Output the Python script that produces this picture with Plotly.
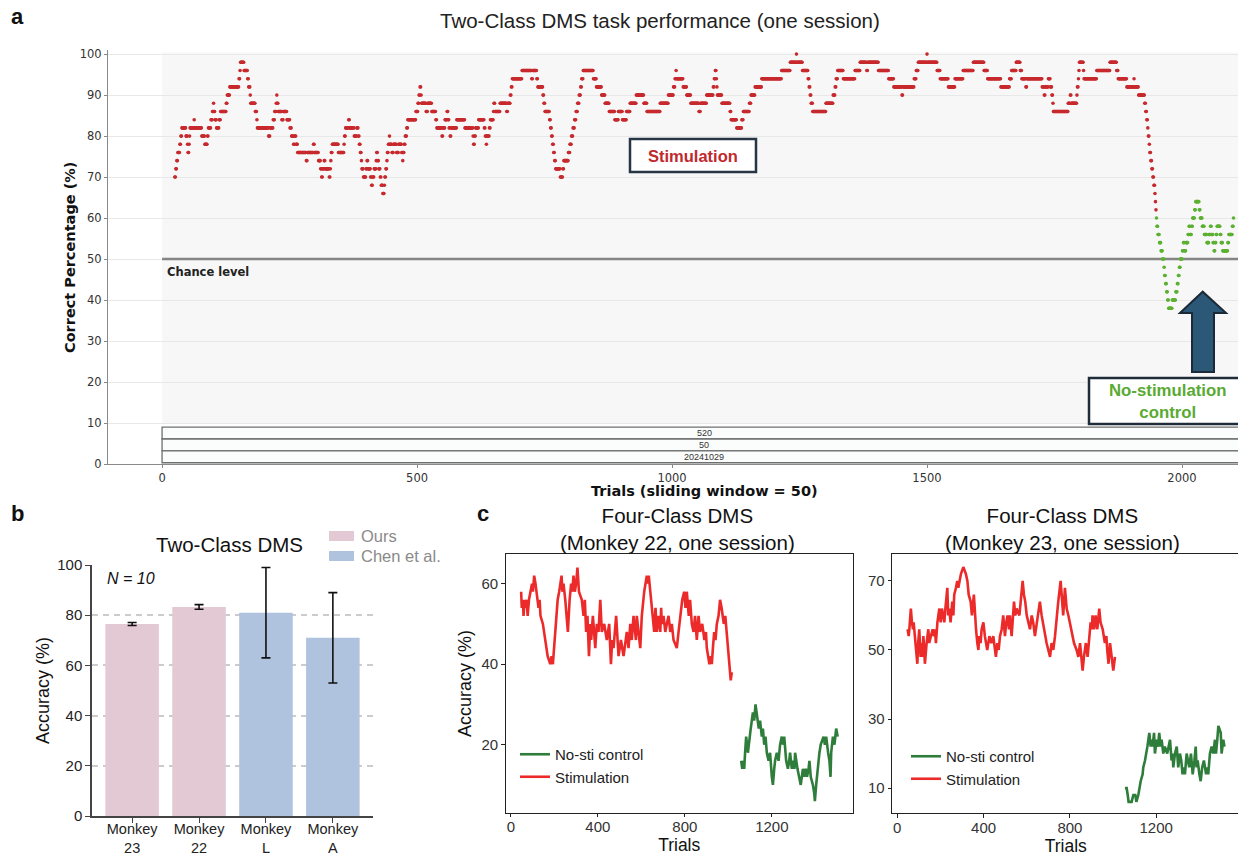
import plotly.graph_objects as go

W, H = 1246, 856          # browser window
OFF = 8                   # default page margin of the html body
FW, FH = W - OFF, H - OFF  # figure size so that it fits exactly in the window
LS = "Liberation Sans, Arial, sans-serif"
DJ = "DejaVu Sans, sans-serif"

# ---------------- Panel a: sliding-window accuracy (run-length: start trial, level) ----------------
A_STIM_START = [25, 27, 29, 31, 35, 37, 39, 47, 50, 51, 53, 54, 55, 63, 64, 78, 84, 89, 91, 96, 99, 101, 102, 104, 107, 112, 115, 126, 128, 133,
                151, 153, 154, 161, 168, 170, 173, 174, 183, 186, 187, 209, 212, 218, 221, 224, 225, 226, 228, 235, 238, 245, 251, 254, 258, 260, 263, 266,
                283, 285, 297, 299, 307, 311, 313, 315, 318, 320, 328, 330, 331, 332, 334, 346, 357, 358, 360, 366, 368, 377, 382, 385, 387, 389, 391, 392,
                395, 400, 402, 404, 409, 411, 413, 416, 420, 421, 423, 425, 428, 430, 433, 436, 437, 439, 441, 442, 444, 446, 447, 451, 454, 460, 464, 470,
                472, 473, 475, 477, 480, 482, 498, 502, 504, 506, 508, 509, 518, 521, 529, 537, 539, 549, 551, 555, 559, 561, 563, 565, 567, 578, 594, 610,
                611, 613, 615, 621, 632, 634, 636, 637, 642, 644, 650, 651, 653, 663, 676, 678, 683, 685, 687, 706, 725, 727, 735, 737, 747, 749, 751, 760,
                762, 764, 766, 768, 770, 772, 781, 786, 788, 797, 800, 803, 806, 809, 812, 815, 818, 821, 823, 826, 846, 852, 862, 869, 877, 888, 895, 903,
                911, 918, 930, 945, 951, 977, 993, 1003, 1006, 1008, 1009, 1022, 1029, 1037, 1053, 1056, 1068, 1081, 1083, 1085, 1087, 1088, 1089, 1098,
                1114, 1116, 1127, 1137, 1140, 1152, 1155, 1163, 1176, 1215, 1232, 1244, 1245, 1256, 1267, 1269, 1271, 1273, 1276, 1302, 1316, 1320, 1322,
                1325, 1336, 1359, 1369, 1382, 1384, 1405, 1425, 1435, 1451, 1453, 1475, 1479, 1483, 1500, 1501, 1520, 1526, 1542, 1555, 1571, 1591, 1612,
                1619, 1645, 1662, 1666, 1675, 1683, 1686, 1694, 1696, 1726, 1730, 1732, 1738, 1742, 1745, 1747, 1748, 1777, 1781, 1783, 1794, 1795, 1797,
                1798, 1799, 1807, 1808, 1833, 1859, 1872, 1875, 1892, 1906, 1907, 1915, 1927, 1929, 1931, 1933, 1934, 1936, 1937, 1939, 1941, 1943, 1945,
                1947, 1948, 1949]
A_STIM_LEVEL = [70, 72, 74, 76, 78, 80, 82, 80, 78, 76, 78, 80, 82, 84, 82, 80, 78, 80, 82, 84, 86, 88, 86, 84, 82, 84, 86, 88, 90, 92,
                94, 96, 98, 96, 94, 92, 90, 88, 86, 84, 82, 80, 82, 84, 86, 88, 90, 88, 86, 84, 86, 84, 82, 80, 78, 80, 78, 76,
                74, 76, 78, 76, 74, 72, 70, 72, 74, 72, 70, 72, 74, 76, 78, 76, 78, 80, 82, 84, 82, 80, 82, 80, 78, 76, 74, 72,
                70, 72, 74, 72, 70, 68, 70, 72, 74, 76, 74, 72, 70, 68, 66, 68, 70, 72, 74, 76, 78, 80, 78, 76, 78, 76, 78, 76,
                74, 76, 78, 80, 82, 84, 86, 88, 90, 92, 90, 88, 86, 88, 86, 84, 82, 80, 82, 84, 86, 84, 82, 80, 82, 84, 82, 80,
                78, 80, 82, 84, 82, 80, 78, 80, 82, 84, 86, 88, 86, 88, 86, 88, 90, 92, 94, 96, 94, 96, 94, 92, 90, 88, 86, 84,
                82, 80, 78, 76, 74, 72, 70, 72, 74, 76, 78, 80, 82, 84, 86, 88, 90, 92, 94, 96, 94, 92, 90, 88, 86, 84, 86, 84,
                86, 88, 90, 88, 86, 88, 90, 92, 94, 96, 94, 92, 90, 88, 86, 88, 90, 92, 94, 96, 94, 92, 90, 88,
                86, 84, 82, 84, 86, 88, 90, 92, 94, 96, 98, 100, 98, 96, 94, 92, 90, 88, 86, 88, 90, 92, 94,
                96, 94, 96, 98, 96, 98, 96, 94, 92, 90, 92, 94, 96, 98, 100, 98, 96, 94, 92, 94, 96, 98, 96,
                94, 92, 94, 96, 98, 96, 94, 92, 94, 92, 90, 92, 94, 92, 90, 88, 86, 88, 90, 88, 90, 92, 94,
                96, 98, 96, 94, 96, 98, 96, 94, 92, 94, 92, 90, 88, 86, 84, 82, 80, 78, 76, 74, 72, 70, 68,
                66, 64, 62]
A_STIM_END = 1950
A_CTRL_START = [1950, 1951, 1953, 1956, 1959, 1962, 1965, 1966, 1968, 1970, 1972, 1974, 1981, 1988, 1991, 1993, 1995, 1997, 2001, 2003,
                2005, 2008, 2012, 2014, 2016, 2019, 2021, 2025, 2027, 2034, 2036, 2040, 2044, 2049, 2053, 2056, 2058, 2061, 2063, 2065,
                2067, 2069, 2075, 2077, 2080, 2090, 2092, 2099, 2101]
A_CTRL_LEVEL = [60, 58, 56, 54, 52, 50, 48, 46, 44, 42, 40, 38, 40, 42, 44, 46, 48, 50, 52, 54,
                52, 54, 56, 58, 56, 58, 60, 62, 64, 62, 60, 58, 56, 54, 56, 58, 56, 54, 52, 54,
                56, 58, 56, 54, 52, 54, 56, 58, 60]
A_CTRL_END = 2102
A_XTICKS = [0, 500, 1000, 1500, 2000]
A_YTICKS = [0, 10, 20, 30, 40, 50, 60, 70, 80, 90, 100]
A_TABLE_ROWS = ["520", "50", "20241029"]
A_CHANCE = 50

# ---------------- Panel b ----------------
B_CATS = ["Monkey<br>23", "Monkey<br>22", "Monkey<br>L", "Monkey<br>A"]
B_MEAN = [76.5, 83.3, 81.0, 71.0]
B_ERR = [0.6, 0.9, 18.0, 18.0]
B_GROUP = ["Ours", "Ours", "Chen et al.", "Chen et al."]
B_YTICKS = [0, 20, 40, 60, 80, 100]

# ---------------- Panel c (Monkey 22) ----------------
C22_STIM_T = [47, 50, 55, 58, 63, 67, 72, 77, 83, 89, 97, 101, 107, 113, 118, 123, 127, 132, 136, 147, 153, 162, 169, 181, 187, 193, 199,
              204, 211, 215, 222, 227, 233, 237, 242, 250, 257, 262, 270, 277, 282, 288, 294, 300, 306, 313, 326, 334, 340, 346, 352, 359,
              365, 369, 377, 388, 395, 403, 411, 418, 429, 441, 452, 460, 466, 472, 484, 495, 506, 518, 533, 541, 549, 556, 564, 575, 579,
              595, 602, 613, 625, 630, 634, 644, 651, 659, 665, 671, 679, 687, 691, 694, 702, 710, 717, 725, 733, 740, 748, 763, 771, 779,
              788, 797, 803, 809, 818, 824, 832, 840, 847, 855, 863, 870, 880, 890, 897, 901, 913, 920, 924, 929, 935, 941, 947, 955, 962,
              969, 975, 979, 986, 993, 1001, 1008, 1011, 1016]
C22_STIM_V = [58, 54, 56, 52, 56, 54, 56, 52, 56, 58, 60, 58, 62, 60, 58, 56, 54, 56, 52, 50, 48, 44, 42, 40, 42, 40, 44,
              48, 52, 56, 58, 60, 62, 58, 60, 56, 52, 48, 56, 60, 58, 62, 58, 60, 64, 58, 56, 52, 56, 48, 52, 42,
              50, 46, 52, 44, 50, 48, 56, 48, 50, 46, 50, 40, 46, 44, 52, 42, 46, 42, 48, 44, 50, 46, 52, 46, 52,
              44, 52, 58, 62, 60, 62, 56, 52, 48, 54, 48, 52, 48, 54, 50, 52, 48, 50, 52, 48, 50, 46, 44, 48, 52,
              56, 58, 54, 58, 52, 56, 50, 48, 52, 46, 52, 48, 50, 46, 48, 44, 40, 42, 40, 44, 48, 46, 50, 52, 56,
              54, 52, 50, 52, 48, 42, 38, 36, 38]
C22_CTRL_T = [1059, 1064, 1068, 1073, 1077, 1082, 1090, 1097, 1103, 1108, 1113, 1119, 1125, 1130, 1136, 1140, 1146, 1154, 1159, 1165,
              1171, 1177, 1185, 1192, 1200, 1205, 1211, 1215, 1223, 1231, 1238, 1246, 1251, 1257, 1266, 1274, 1280, 1284, 1292, 1300,
              1304, 1307, 1318, 1327, 1333, 1343, 1349, 1356, 1362, 1369, 1373, 1379, 1389, 1395, 1398, 1404, 1410, 1419, 1425, 1438,
              1444, 1450, 1459, 1465, 1470, 1473, 1481, 1488, 1496, 1503]
C22_CTRL_V = [16, 14, 16, 14, 18, 22, 18, 22, 24, 26, 28, 26, 30, 28, 26, 24, 26, 22, 24, 20,
              22, 18, 16, 18, 12, 10, 14, 16, 18, 16, 20, 22, 20, 22, 16, 14, 16, 18, 14, 16,
              14, 18, 14, 12, 10, 14, 12, 14, 12, 14, 16, 12, 10, 8, 6, 10, 14, 18, 20, 22,
              20, 22, 18, 16, 12, 18, 22, 20, 24, 22]

# ---------------- Panel c (Monkey 23) ----------------
C23_STIM_T = [48, 53, 56, 59, 63, 68, 73, 76, 82, 87, 93, 97, 102, 108, 113, 116, 121, 125, 128, 136, 144, 148, 155, 164, 170, 175, 179,
              186, 195, 201, 207, 213, 218, 223, 232, 236, 241, 247, 255, 260, 264, 272, 278, 283, 288, 295, 306, 318, 325, 331, 340, 346,
              355, 360, 365, 371, 376, 380, 386, 391, 399, 406, 417, 427, 436, 445, 457, 464, 470, 476, 484, 491, 499, 505, 511, 518, 522,
              530, 535, 541, 547, 553, 566, 572, 576, 581, 587, 593, 600, 607, 615, 623, 630, 638, 646, 654, 661, 669, 680, 692, 700, 708,
              715, 723, 731, 739, 746, 757, 763, 769, 777, 785, 793, 800, 808, 819, 831, 839, 847, 854, 859, 865, 874, 882, 890, 896, 901,
              905, 912, 919, 927, 936, 942, 952, 962, 969, 973, 979, 986, 993, 1001, 1009]
C23_STIM_V = [56, 54, 56, 58, 62, 58, 56, 58, 54, 50, 46, 52, 56, 48, 52, 48, 54, 50, 46, 52, 56, 52, 54, 56, 54, 56, 52,
              58, 62, 58, 62, 60, 58, 62, 68, 60, 62, 58, 64, 60, 66, 68, 70, 68, 70, 72, 74, 72, 70, 66, 64, 60,
              66, 60, 56, 52, 50, 54, 52, 56, 58, 54, 50, 54, 52, 54, 48, 52, 50, 54, 56, 60, 54, 58, 60, 56, 60,
              54, 58, 64, 60, 62, 60, 64, 66, 70, 66, 64, 60, 58, 56, 60, 58, 54, 58, 62, 64, 60, 56, 52, 50, 48,
              52, 50, 54, 60, 64, 70, 66, 60, 68, 62, 60, 58, 56, 52, 50, 48, 52, 46, 44, 48, 52, 48, 54, 58, 56,
              60, 56, 60, 56, 62, 58, 56, 52, 54, 50, 46, 52, 48, 44, 48]
C23_CTRL_T = [1055, 1063, 1068, 1072, 1086, 1094, 1103, 1108, 1117, 1122, 1128, 1137, 1140, 1148, 1152, 1159, 1168, 1174, 1179, 1183,
              1190, 1194, 1202, 1208, 1214, 1220, 1225, 1233, 1240, 1251, 1264, 1271, 1276, 1279, 1287, 1295, 1302, 1310, 1316, 1322,
              1329, 1333, 1341, 1347, 1353, 1361, 1369, 1377, 1383, 1387, 1392, 1400, 1406, 1413, 1421, 1431, 1435, 1441, 1449, 1457,
              1465, 1472, 1477, 1483, 1488, 1499, 1503, 1511, 1516]
C23_CTRL_V = [10, 10, 8, 6, 6, 8, 8, 6, 8, 10, 12, 14, 16, 18, 20, 22, 26, 22, 24, 22,
              26, 20, 24, 22, 26, 22, 24, 20, 22, 20, 24, 18, 20, 16, 20, 22, 16, 20, 18, 14,
              16, 14, 20, 18, 16, 20, 14, 18, 22, 16, 18, 14, 12, 16, 18, 14, 16, 14, 20, 22,
              20, 24, 20, 24, 28, 26, 20, 24, 22]
C_XTICKS = [0, 400, 800, 1200]


def expand(starts, levels, end):
    xs, ys = [], []
    bounds = list(starts) + [end]
    for i, lv in enumerate(levels):
        for t in range(bounds[i], bounds[i + 1]):
            xs.append(t)
            ys.append(lv)
    return xs, ys


def px(x):
    return (x - OFF) / FW


def py(y):
    return 1 - (y - OFF) / FH


def note(x, y, text, size, color="#111111", family=LS, xa="center", ya="middle", angle=0):
    return dict(xref="paper", yref="paper", x=px(x), y=py(y), text=text, showarrow=False, xanchor=xa, yanchor=ya,
                textangle=angle, font=dict(family=family, size=size, color=color))


RED_A, GREEN_A = "#c72a2e", "#5cb032"
PINK, BLUE = "#e2c9d3", "#afc3df"
RED_C, GREEN_C = "#ec2a2a", "#2f7d3b"

fig = go.Figure()

# Panel a traces
sx, sy = expand(A_STIM_START, A_STIM_LEVEL, A_STIM_END)
cx, cy = expand(A_CTRL_START, A_CTRL_LEVEL, A_CTRL_END)
fig.add_trace(go.Scatter(x=sx, y=sy, mode="markers", marker=dict(size=3.6, color=RED_A, line=dict(width=0)),
                         name="Stimulation", showlegend=False, xaxis="x", yaxis="y", hoverinfo="skip"))
fig.add_trace(go.Scatter(x=cx, y=cy, mode="markers", marker=dict(size=3.6, color=GREEN_A, line=dict(width=0)),
                         name="No-stimulation control", showlegend=False, xaxis="x", yaxis="y", hoverinfo="skip"))

# Panel b
fig.add_trace(go.Bar(x=B_CATS, y=B_MEAN,
                     marker=dict(color=[PINK if g == "Ours" else BLUE for g in B_GROUP], line=dict(width=0)),
                     width=0.8, error_y=dict(type="data", array=B_ERR, color="#111111", thickness=1.6, width=4.5),
                     showlegend=False, xaxis="x2", yaxis="y2"))

# Panel c
fig.add_trace(go.Scatter(x=C22_CTRL_T, y=C22_CTRL_V, mode="lines", line=dict(color=GREEN_C, width=2.6),
                         name="No-sti control", legend="legend2", xaxis="x3", yaxis="y3"))
fig.add_trace(go.Scatter(x=C22_STIM_T, y=C22_STIM_V, mode="lines", line=dict(color=RED_C, width=2.6),
                         name="Stimulation", legend="legend2", xaxis="x3", yaxis="y3"))
fig.add_trace(go.Scatter(x=C23_CTRL_T, y=C23_CTRL_V, mode="lines", line=dict(color=GREEN_C, width=2.6),
                         name="No-sti control", legend="legend3", xaxis="x4", yaxis="y4"))
fig.add_trace(go.Scatter(x=C23_STIM_T, y=C23_STIM_V, mode="lines", line=dict(color=RED_C, width=2.6),
                         name="Stimulation", legend="legend3", xaxis="x4", yaxis="y4"))

shapes = []
annots = []

# ---- panel a decorations ----
A_XMIN, A_XMAX = -106, 2125.5
shapes.append(dict(type="rect", xref="x", yref="y", x0=0, x1=A_XMAX, y0=10, y1=100.4,
                   fillcolor="#f7f7f7", line=dict(width=0), layer="below"))
shapes.append(dict(type="line", xref="x", yref="y", x0=0, x1=A_XMAX, y0=A_CHANCE, y1=A_CHANCE,
                   line=dict(color="#858585", width=2.6), layer="between"))
row_h = 2.9
for i, lab in enumerate(A_TABLE_ROWS):
    y0 = 9.0 - (i + 1) * row_h
    y1 = 9.0 - i * row_h
    shapes.append(dict(type="rect", xref="x", yref="y", x0=0, x1=A_XMAX, y0=y0, y1=y1,
                       fillcolor="#fbfcfc", line=dict(color="#6f6f6f", width=1.3), layer="above"))
    annots.append(dict(xref="x", yref="y", x=A_XMAX / 2, y=(y0 + y1) / 2, text=lab, showarrow=False,
                       xanchor="center", yanchor="middle", font=dict(family=LS, size=9, color="#333333")))
annots.append(dict(xref="x", yref="y", x=6, y=A_CHANCE - 0.9, text="<b>Chance level</b>", showarrow=False,
                   xanchor="left", yanchor="top", font=dict(family=DJ, size=11.5, color="#222222")))

# Stimulation box
shapes.append(dict(type="rect", xref="paper", yref="paper", x0=px(630), x1=px(756), y0=py(172), y1=py(139),
                   fillcolor="white", line=dict(color="#263645", width=2.5), layer="above"))
annots.append(note(693, 156, "<b>Stimulation</b>", 16.5, "#c0282d"))
# No-stim box
shapes.append(dict(type="rect", xref="paper", yref="paper", x0=px(1089), x1=px(1244), y0=py(424), y1=py(378),
                   fillcolor="white", line=dict(color="#1f2d3b", width=2.5), layer="above"))
annots.append(note(1167, 401, "<b>No-stimulation<br>control</b>", 16.8, "#5aaa32"))
# Arrow
pts = [(1192, 372), (1192, 313), (1180, 313), (1202.7, 291.7), (1226, 313), (1214, 313), (1214, 372)]
path = "M " + " L ".join(f"{px(a):.5f},{py(b):.5f}" for a, b in pts) + " Z"
shapes.append(dict(type="path", xref="paper", yref="paper", path=path, fillcolor="#2c5878",
                   line=dict(color="#1b2a37", width=2), layer="above"))

annots.append(note(660, 20, "Two-Class DMS task performance (one session)", 20.5, "#222222"))
annots.append(note(704, 491, "<b>Trials (sliding window = 50)</b>", 14.5, "#111111", DJ))
annots.append(note(70, 258, "<b>Correct Percentage (%)</b>", 14.5, "#111111", DJ, angle=-90))

# panel letters
for lt, x, y in [("a", 17, 17), ("b", 17, 513), ("c", 483, 513)]:
    annots.append(note(x, y, f"<b>{lt}</b>", 22, "#111111"))

# ---- panel b decorations ----
annots.append(note(229, 544, "Two-Class DMS", 20.5, "#111111"))
annots.append(note(105, 578, "<i>N = 10</i>", 16, "#111111", xa="left"))
for (lab, col, yy) in [("Ours", PINK, 536), ("Chen et al.", BLUE, 556)]:
    shapes.append(dict(type="rect", xref="paper", yref="paper", x0=px(329), x1=px(354), y0=py(yy + 5), y1=py(yy - 5),
                       fillcolor=col, line=dict(width=0)))
    annots.append(note(359, yy, lab, 16.5, "#8a8a8a", xa="left"))

# ---- panel c titles ----
annots.append(note(677, 529, "Four-Class DMS<br>(Monkey 22, one session)", 20.5, "#111111"))
annots.append(note(1062, 529, "Four-Class DMS<br>(Monkey 23, one session)", 20.5, "#111111"))

box_axis = dict(showline=True, linecolor="#222222", linewidth=1.2, mirror=True, ticks="outside", ticklen=3.5,
                tickcolor="#222222", showgrid=False, zeroline=False, automargin=False,
                tickfont=dict(family=LS, size=15, color="#333333"))

fig.update_layout(
    width=FW, height=FH, template="none", paper_bgcolor="white", plot_bgcolor="white",
    margin=dict(l=0, r=0, t=0, b=0), showlegend=True, bargap=0.2,
    shapes=shapes, annotations=annots,
    xaxis=dict(domain=[px(108), 1.0], range=[A_XMIN, A_XMAX], tickvals=A_XTICKS, ticks="outside", ticklen=3,
               tickcolor="#888888", showline=True, linecolor="#8a8a8a", linewidth=1.2, showgrid=False,
               zeroline=False, automargin=False, tickfont=dict(family=DJ, size=11.5, color="#333333"), anchor="y"),
    yaxis=dict(domain=[py(464), py(50)], range=[0, 101], tickvals=A_YTICKS, ticks="outside", ticklen=3,
               tickcolor="#888888", showline=True, linecolor="#8a8a8a", linewidth=1.2,
               showgrid=True, gridcolor="#e8e8e8", gridwidth=1, zeroline=False, automargin=False,
               tickfont=dict(family=DJ, size=11.5, color="#333333"), anchor="x"),
    xaxis2=dict(domain=[px(92), px(373)], range=[-0.6, 3.6], showline=True, linecolor="#444444", linewidth=1.5,
                ticks="outside", ticklen=5, tickcolor="#444444", showgrid=False, zeroline=False, automargin=False,
                ticklabelstandoff=-6, tickfont=dict(family=LS, size=14.5, color="#222222"), anchor="y2"),
    yaxis2=dict(domain=[py(816), py(565)], range=[0, 100], tickvals=B_YTICKS, showline=True, linecolor="#444444",
                linewidth=1.5, ticks="outside", ticklen=5, tickcolor="#444444", showgrid=True, gridcolor="#cccccc",
                gridwidth=1.5, griddash="6px,5px", zeroline=False, automargin=False,
                tickfont=dict(family=LS, size=15, color="#222222"),
                title=dict(text="Accuracy (%)", font=dict(family=LS, size=18, color="#111111"), standoff=3),
                anchor="x2"),
    xaxis3=dict(domain=[px(505.7), px(852.7)], range=[-24, 1572], tickvals=C_XTICKS, anchor="y3", ticklabelstandoff=-3,
                title=dict(text="Trials", font=dict(family=LS, size=17.5, color="#111111"), standoff=0), **box_axis),
    yaxis3=dict(domain=[py(812.7), py(554.3)], range=[3.1, 67.3], tickvals=[20, 40, 60], anchor="x3",
                title=dict(text="Accuracy (%)", font=dict(family=LS, size=18, color="#111111"), standoff=5), **box_axis),
    xaxis4=dict(domain=[px(892.3), px(1239.3)], range=[-23, 1585], tickvals=C_XTICKS, anchor="y4", ticklabelstandoff=-3,
                title=dict(text="Trials", font=dict(family=LS, size=17.5, color="#111111"), standoff=0), **box_axis),
    yaxis4=dict(domain=[py(813.3), py(554.3)], range=[2.7, 77.7], tickvals=[10, 30, 50, 70], anchor="x4", **box_axis),
    legend2=dict(x=px(515), y=py(738), xanchor="left", yanchor="top", bgcolor="rgba(0,0,0,0)",
                 font=dict(family=LS, size=15, color="#222222"), traceorder="normal"),
    legend3=dict(x=px(906), y=py(740), xanchor="left", yanchor="top", bgcolor="rgba(0,0,0,0)",
                 font=dict(family=LS, size=15, color="#222222"), traceorder="normal"),
)

fig.write_html("out.html")
